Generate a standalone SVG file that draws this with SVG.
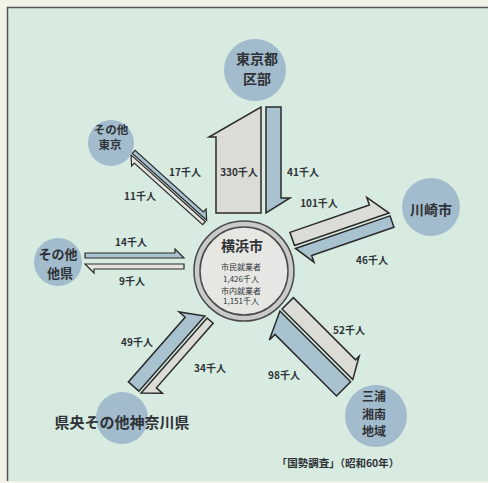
<svg xmlns="http://www.w3.org/2000/svg" width="488" height="483" viewBox="0 0 488 483">
<style>
text{font-family:"Noto Sans CJK JP","Noto Sans",sans-serif;font-weight:bold;fill:#2f3236;text-anchor:middle}
.lbl{font-size:10px}
.nm{font-size:14px}
.sm{font-size:8px;font-weight:normal}
.city{fill:#a3bccd}
.g{fill:#dcdcd6;stroke:#2a2a2a;stroke-width:1.5;stroke-linejoin:miter}
.b{fill:#a9c2d0;stroke:#2a2a2a;stroke-width:1.5;stroke-linejoin:miter}
.gt{fill:#e4e4de;stroke:#2a2a2a;stroke-width:1.2}
.bt{fill:#a9c2d0;stroke:#2a2a2a;stroke-width:1.2}
</style>
<rect x="0" y="0" width="488" height="483" fill="#f3f2e6"/>
<rect x="7" y="7" width="481" height="474" fill="#d7ebe1"/>
<path d="M7.5 481V7.5H488" fill="none" stroke="#555" stroke-width="1.5"/>

<g id="connectors">
  <g transform="translate(263.5,213) rotate(-90)">
    <polygon class="g" points="0,-2.5 106,-2.5 76,-54.5 76,-47.5 0,-47.5"/>
    <polygon class="b" points="0,2.5 106,2.5 106,17.5 15,17.5 15,26.5"/>
  </g>
  <g transform="translate(295,247) rotate(-19)">
    <polygon class="g" points="0,-1.5 100,-1.5 84,-23.5 84,-15.5 0,-15.5"/>
    <polygon class="b" points="0,1.5 100,1.5 100,13.5 13,13.5 13,20.5"/>
  </g>
  <g transform="translate(281,310) rotate(45)">
    <polygon class="g" points="0,-1.5 100,-1.5 88,-22.5 88,-17.5 0,-17.5"/>
    <polygon class="b" points="0,1.5 100,1.5 100,21.5 13,21.5 13,29.5"/>
  </g>
  <g transform="translate(206,317) rotate(131.3)">
    <polygon class="g" points="0,-1.5 100,-1.5 86,-17.5 86,-9.5 0,-9.5"/>
    <polygon class="b" points="0,1.5 100,1.5 100,15.5 14,15.5 14,23.5"/>
  </g>
  <g transform="translate(206,221) rotate(-138)">
    <polygon class="gt" points="0,-1 100,-1 92,-9 92,-5 0,-5"/>
    <polygon class="bt" points="0,1 100,1 100,5 8,5 8,9"/>
  </g>
  <g transform="translate(184,261) rotate(180)">
    <polygon class="gt" points="0,-3 99,-3 90,-12 90,-8 0,-8"/>
    <polygon class="bt" points="0,3 99,3 99,8 9,8 9,12"/>
  </g>
  <text class="lbl" x="239" y="176">330千人</text>
  <text class="lbl" x="303" y="176">41千人</text>
  <text class="lbl" x="185" y="176">17千人</text>
  <text class="lbl" x="140" y="200">11千人</text>
  <text class="lbl" x="319" y="207">101千人</text>
  <text class="lbl" x="372" y="264">46千人</text>
  <text class="lbl" x="131" y="246">14千人</text>
  <text class="lbl" x="132" y="285">9千人</text>
  <text class="lbl" x="349" y="334">52千人</text>
  <text class="lbl" x="284" y="379">98千人</text>
  <text class="lbl" x="137" y="346">49千人</text>
  <text class="lbl" x="210" y="372">34千人</text>
</g>

<g id="yokohama">
  <circle cx="244" cy="271" r="50" fill="#c9cbc6" stroke="#4a4a4a" stroke-width="1.5"/>
  <circle cx="244" cy="271" r="44" fill="#e6e7e2" stroke="#4a4a4a" stroke-width="1.5"/>
  <text class="nm" x="242" y="251">横浜市</text>
  <text class="sm" x="241" y="270">市民就業者</text>
  <text class="sm" x="241" y="282">1,426千人</text>
  <text class="sm" x="241" y="294">市内就業者</text>
  <text class="sm" x="241" y="304">1,151千人</text>
</g>

<g id="tokyo">
  <circle class="city" cx="255" cy="70" r="31"/>
  <text class="nm" x="257" y="64">東京都</text>
  <text class="nm" x="257" y="84">区部</text>
</g>

<g id="other-tokyo">
  <circle class="city" cx="111" cy="143" r="23"/>
  <text x="111" y="134" style="font-size:11.5px">その他</text>
  <text x="110" y="149" style="font-size:11.5px">東京</text>
</g>

<g id="other-pref">
  <circle class="city" cx="58" cy="262" r="24"/>
  <text x="58" y="259" style="font-size:13px">その他</text>
  <text x="60" y="278" style="font-size:13px">他県</text>
</g>

<g id="kawasaki">
  <circle class="city" cx="431" cy="207" r="29"/>
  <text class="nm" x="431" y="215">川崎市</text>
</g>

<g id="miura">
  <circle class="city" cx="376" cy="416" r="31"/>
  <text x="374" y="401" style="font-size:12px">三浦</text>
  <text x="374" y="418.5" style="font-size:12px">湘南</text>
  <text x="374" y="436" style="font-size:12px">地域</text>
</g>

<g id="kenou">
  <circle class="city" cx="122" cy="418" r="26"/>
  <text x="122" y="428" style="font-size:15px">県央その他神奈川県</text>
</g>

<text x="338" y="467" style="font-size:10.5px">「国勢調査」（昭和60年）</text>
</svg>
